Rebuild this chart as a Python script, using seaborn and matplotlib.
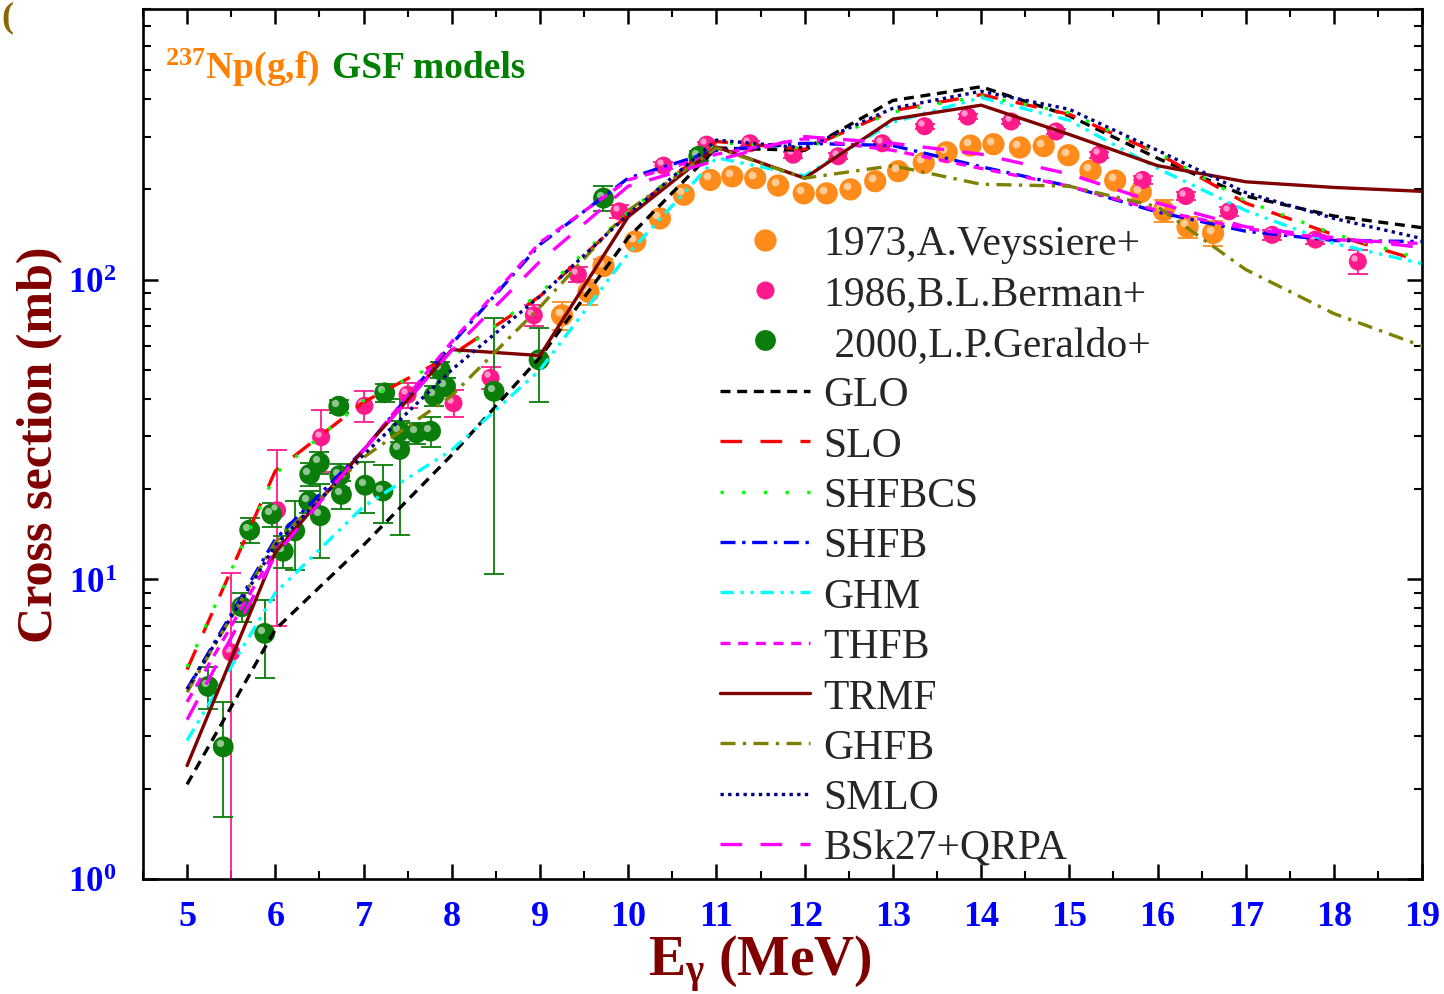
import numpy as np
import pandas as pd
import matplotlib
matplotlib.use("Agg")
import matplotlib.pyplot as plt
import matplotlib.transforms as mtransforms
from matplotlib.lines import Line2D
from matplotlib.ticker import MultipleLocator, LogLocator, NullFormatter, FixedLocator
from matplotlib.offsetbox import TextArea, HPacker, AnchoredOffsetbox
import seaborn as sns

veyssiere_E = [9.25, 9.55, 9.72, 10.08, 10.36, 10.63, 10.93, 11.18, 11.44, 11.70, 11.99, 12.25, 12.52, 12.80,
               13.06, 13.35, 13.61, 13.88, 14.14, 14.44, 14.71, 14.99, 15.24, 15.52, 15.81, 16.07, 16.34, 16.63]
veyssiere_xs = [76, 91, 111, 134, 160, 192, 215, 221, 218, 206, 194, 194, 200, 213,
                230, 245, 266, 280, 283, 276, 279, 260, 231, 214, 196, 170, 150, 143]
veyssiere_err = [8, 9, 6, 4, 4, 5, 5, 5, 5, 5, 5, 5, 5, 5,
                 5, 6, 6, 6, 6, 6, 6, 6, 6, 6, 6, 14, 12, 14]

berman_E = [5.50, 6.02, 6.52, 7.01, 7.50, 8.02, 8.44, 8.93, 9.43, 9.90, 10.40, 10.89, 11.38, 11.87,
            12.38, 12.88, 13.36, 13.85, 14.34, 14.85, 15.34, 15.83, 16.32, 16.81, 17.30, 17.79, 18.27]
berman_xs = [5.7, 17.0, 29.8, 37.9, 41.3, 38.7, 47.0, 76.0, 104, 169, 240, 282, 285, 261,
             258, 285, 325, 350, 337, 312, 261, 215, 190, 169, 141, 136, 115]
berman_err = [4.8, 10, 7, 4.5, 4, 4, 4, 6, 6, 8, 6, 6, 6, 6,
              6, 6, 6, 6, 6, 6, 6, 6, 6, 6, 5, 5, 11]

geraldo_E = [5.24, 5.41, 5.62, 5.71, 5.88, 5.96, 6.09, 6.22, 6.38, 6.39, 6.50, 6.51, 6.72, 6.73, 6.75,
             7.02, 7.22, 7.24, 7.41, 7.41, 7.60, 7.76, 7.80, 7.87, 7.93, 8.48, 8.99, 9.72, 10.80]
geraldo_xs = [4.39, 2.76, 8.1, 14.6, 6.6, 16.5, 12.4, 14.5, 18.2, 22.4, 24.5, 16.3, 37.8, 22.2, 19.2,
              20.6, 19.7, 41.9, 31.2, 27.1, 30.8, 31.2, 41.0, 50.0, 44.0, 42.4, 54.0, 187, 258]
geraldo_err = [0.7, 1.15, 0.9, 1.4, 1.9, 1.5, 1.5, 3.8, 1.5, 2, 2, 4.5, 2, 2, 2,
               4, 4.3, 3, 2.5, 13, 2.5, 3.5, 3, 3, 3, 32, 15, 18, 10]

# ---- GSF model curves ----
E_model = [5, 6, 7, 8, 9, 10, 11, 12, 13, 14, 15, 16, 17, 18, 19]
glo = [2.07, 6.8, 13.0, 26.0, 55.0, 138, 275, 270, 396, 440, 352, 254, 190, 163, 149]
slo = [5.0, 23.0, 39.0, 56.0, 88.0, 165, 289, 272, 366, 414, 356, 264, 180, 141, 115]
shfbcs = [5.1, 22.5, 39.5, 55.0, 90.0, 168, 287, 274, 362, 410, 360, 266, 183, 142, 117]
shfb = [4.3, 13.6, 27.0, 61.0, 131, 218, 270, 285, 280, 238, 205, 168, 145, 135, 134]
ghm = [2.9, 9.0, 17.5, 27.0, 50.0, 122, 255, 222, 335, 405, 340, 235, 170, 132, 113]
thfb = [3.9, 12.5, 27.0, 62.0, 133, 215, 262, 295, 270, 235, 205, 170, 148, 136, 132]
trmf = [2.39, 12.3, 27.0, 58.4, 55.8, 162, 277, 218, 343, 382, 305, 240, 212, 203, 197]
ghfb = [4.2, 13.3, 25.5, 41.0, 81.0, 170, 275, 218, 240, 208, 205, 175, 108, 77, 60]
smlo = [4.3, 13.0, 26.0, 50.0, 88.0, 165, 292, 275, 373, 425, 370, 270, 195, 160, 137]
bsk27 = [3.4, 12.0, 27.0, 58.0, 115, 205, 250, 300, 285, 262, 225, 180, 150, 138, 128]

models = pd.DataFrame({"E": E_model, "GLO": glo, "SLO": slo, "SHFBCS": shfbcs, "SHFB": shfb,
                       "GHM": ghm, "THFB": thfb, "TRMF": trmf, "GHFB": ghfb, "SMLO": smlo,
                       "BSk27+QRPA": bsk27})

# colour / dash style for each model
model_styles = {
    "GLO": ("black", (0, (3.0, 2.0))),
    "SLO": ("#FF0000", (0, (6.5, 5.5))),
    "SHFBCS": ("#00FF00", (0, (1.0, 5.5))),
    "SHFB": ("#0000FF", (0, (4.5, 2.0, 1.0, 2.0))),
    "GHM": ("#00FFFF", (0, (4.0, 2.0, 1.0, 2.0, 1.0, 2.0))),
    "THFB": ("#FF00FF", (0, (3.0, 2.3))),
    "TRMF": ("#800000", "-"),
    "GHFB": ("#808000", (0, (4.5, 2.2, 1.0, 2.2))),
    "SMLO": ("#000080", (0, (1.0, 1.3))),
    "BSk27+QRPA": ("#FF00FF", (0, (6.5, 5.5))),
}

sns.set_theme(style="ticks")
plt.rcParams.update({
    "font.family": ["Liberation Serif", "DejaVu Serif"],
    "mathtext.fontset": "custom",
    "mathtext.rm": "Liberation Serif",
    "mathtext.bf": "Liberation Serif:bold",
    "mathtext.it": "Liberation Serif:italic",
    "xtick.direction": "in",
    "ytick.direction": "in",
})

fig = plt.figure(figsize=(14.44, 9.95), dpi=100)
ax = fig.add_axes([0.099, 0.1156, 0.8859, 0.8744])
ax.set_yscale("log")

# highlight offset for the "ball" look of the markers
hl = ax.transData + mtransforms.ScaledTranslation(-2.5 / 72, 2.5 / 72, fig.dpi_scale_trans)

exp_sets = [
    (veyssiere_E, veyssiere_xs, veyssiere_err, "#FF8C1A", 16),
    (berman_E, berman_xs, berman_err, "#FF1A8C", 13),
    (geraldo_E, geraldo_xs, geraldo_err, "#0A7D0A", 15),
]
for ex, ey, ee, col, ms in exp_sets:
    ax.errorbar(ex, ey, yerr=ee, fmt="none", ecolor=col, elinewidth=1.3, capsize=7,
                capthick=1.3, zorder=2)
    sns.scatterplot(x=ex, y=ey, color=col, s=ms ** 2, edgecolor="none", ax=ax, zorder=2.5,
                    legend=False)
    ax.plot(ex, ey, "o", ms=ms * 0.35, color="white", alpha=0.55, mec="none",
            transform=hl, zorder=2.6)

lw = 2.4
for name, (col, ls) in model_styles.items():
    sns.lineplot(data=models, x="E", y=name, color=col, linestyle=ls, lw=lw, ax=ax,
                 zorder=3, legend=False)

ax.set_xlim(4.5, 19)
ax.set_ylim(1, 800)

ax.xaxis.set_minor_locator(MultipleLocator(0.5))
ax.set_xticks(range(5, 20))
ax.set_xticklabels([str(v) for v in range(5, 20)])
ax.yaxis.set_major_locator(FixedLocator([1, 10, 100]))
ax.set_yticklabels([r"$\mathbf{10^{0}}$", r"$\mathbf{10^{1}}$", r"$\mathbf{10^{2}}$"])
ax.yaxis.set_minor_locator(LogLocator(base=10, subs=np.arange(2, 10)))
ax.yaxis.set_minor_formatter(NullFormatter())

ax.tick_params(which="both", top=True, right=True, direction="in", color="black")
ax.tick_params(which="major", length=11, width=1.8)
ax.tick_params(which="minor", length=6, width=1.5)
ax.tick_params(axis="x", which="major", pad=15, labelsize=26, labelcolor="#0000FF")
ax.tick_params(axis="y", which="major", pad=19, labelsize=25, labelcolor="#0000FF")
for lab in ax.get_xticklabels():
    lab.set_fontweight("bold")
for sp in ax.spines.values():
    sp.set_linewidth(1.9)
    sp.set_color("black")
ax.grid(False)

ax.set_xlabel(r"$\mathbf{E_{\gamma}\ (MeV)}$", fontsize=40, color="#800000")
ax.set_ylabel("Cross section (mb)", fontsize=36, color="#800000", fontweight="bold")
ax.xaxis.set_label_coords(0.482, -0.062)
ax.yaxis.set_label_coords(-0.062, 0.5)

# title inside the axes, two colours
t1 = TextArea(r"$\mathbf{^{237}Np(g{,}f)}$", textprops=dict(color="#FF8000", fontsize=27))
t2 = TextArea("GSF models", textprops=dict(color="#008000", fontsize=27, fontweight="bold"))
box = HPacker(children=[t1, t2], align="baseline", pad=0, sep=9)
ab = AnchoredOffsetbox(loc="upper left", child=box, pad=0, borderpad=0, frameon=False,
                       bbox_to_anchor=(0.017, 0.958), bbox_transform=ax.transAxes)
ax.add_artist(ab)

# legend
handles = [
    Line2D([], [], ls="none", marker="o", ms=16, color="#FF8C1A", mec="none"),
    Line2D([], [], ls="none", marker="o", ms=13, color="#FF1A8C", mec="none"),
    Line2D([], [], ls="none", marker="o", ms=15, color="#0A7D0A", mec="none"),
]
labels = ["1973,A.Veyssiere+", "1986,B.L.Berman+", " 2000,L.P.Geraldo+"]
for name, (col, ls) in model_styles.items():
    handles.append(Line2D([], [], color=col, ls=ls, lw=lw))
    labels.append(name)
ax.legend(handles, labels, loc="upper left", bbox_to_anchor=(0.451, 0.752), frameon=False,
          fontsize=30, handlelength=2.16, handletextpad=0.33, labelspacing=0.285,
          borderpad=0, borderaxespad=0)

fig.text(0.001, 0.999, "(", color="#8B6508", fontsize=26, fontweight="bold", ha="left", va="top")

fig.savefig("out.png", dpi=100)
